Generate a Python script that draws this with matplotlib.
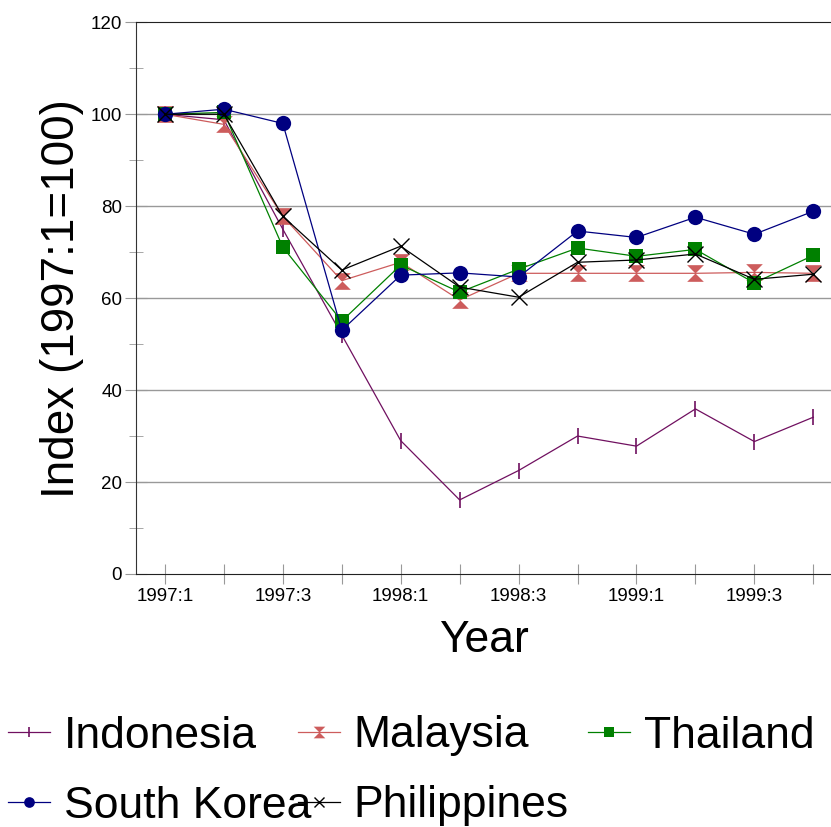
import matplotlib.pyplot as plt

plt.rcParams['font.family'] = ['Liberation Sans', 'DejaVu Sans']

quarters = ['1997:1', '1997:2', '1997:3', '1997:4', '1998:1', '1998:2',
            '1998:3', '1998:4', '1999:1', '1999:2', '1999:3', '1999:4']

indonesia = [100, 98.8, 75, 52, 29.0, 16.1, 22.5, 30.0, 27.8, 35.9, 28.8, 34.1]
malaysia = [100, 97.8, 77.8, 63.8, 67.8, 59.6, 65.4, 65.4, 65.4, 65.4, 65.6, 65.4]
thailand = [100, 100.4, 71.1, 55.0, 67.2, 61.3, 66.3, 70.9, 69.1, 70.6, 63.3, 69.3]
south_korea = [100, 101.1, 98.0, 53.0, 65.0, 65.5, 64.6, 74.6, 73.2, 77.6, 73.9, 78.9]
philippines = [100, 100, 77.8, 66.1, 71.3, 62.4, 60.2, 67.8, 68.3, 69.6, 64.1, 65.2]

# hourglass marker for Malaysia
hourglass = [(-1, 1), (1, 1), (0, 0), (1, -1), (-1, -1), (0, 0), (-1, 1)]

series = [
    ('Indonesia', indonesia, '#701060', '|', 11, 1.2),
    ('Malaysia', malaysia, '#CD5C5C', hourglass, 12, 0),
    ('Thailand', thailand, '#008000', 's', 10, 0),
    ('South Korea', south_korea, '#000080', 'o', 11, 0),
    ('Philippines', philippines, '#000000', 'x', 11, 1.0),
]

fig = plt.figure(figsize=(8.31, 8.27), dpi=100)
ax = fig.add_axes([0.1637, 0.306, 0.8363, 0.667])

x = list(range(len(quarters)))
handles = []
for name, vals, col, mk, ms, mew in series:
    ln, = ax.plot(x, vals, color=col, lw=0.9, marker=mk, ms=ms, mew=mew,
                  mec=col, mfc=col, label=name)
    handles.append(ln)

ax.set_xlim(-0.49, 11.3)
ax.set_ylim(0, 120)
ax.set_yticks(range(0, 121, 20))
ax.set_yticks(range(10, 120, 20), minor=True)
ax.set_xticks(x)
ax.set_xticklabels([q if i % 2 == 0 else '' for i, q in enumerate(quarters)])
ax.tick_params(axis='both', which='both', direction='inout', labelsize=13.5,
               color='#999999')
ax.tick_params(axis='y', which='major', length=16, pad=2)
ax.tick_params(axis='y', which='minor', length=10)
ax.tick_params(axis='x', which='major', length=14, pad=3)

ax.grid(axis='y', color='#999999', lw=1)
ax.get_ygridlines()[-1].set_visible(False)
ax.get_ygridlines()[0].set_visible(False)
ax.set_axisbelow(True)

ax.spines['right'].set_visible(False)
ax.spines['top'].set_color('#222222')
ax.spines['left'].set_color('#333333')
ax.spines['bottom'].set_color('#222222')

ax.set_xlabel('Year', fontsize=32, labelpad=11)
ax.set_ylabel('Index (1997:1=100)', fontsize=33, labelpad=5)

# legend entries placed row by row, like the original
W, H = 831, 827
legend_pos = [(8, 736), (298, 736), (588, 736), (8, 806), (298, 806)]
for ln, (px, py) in zip(handles, legend_pos):
    lg = fig.legend([ln], [ln.get_label()], loc='center left',
                    bbox_to_anchor=(px / W, 1 - py / H), fontsize=32,
                    frameon=False, handlelength=0.95, handletextpad=0.3,
                    borderpad=0, borderaxespad=0, markerscale=0.7)

fig.savefig('out.png', dpi=100)
